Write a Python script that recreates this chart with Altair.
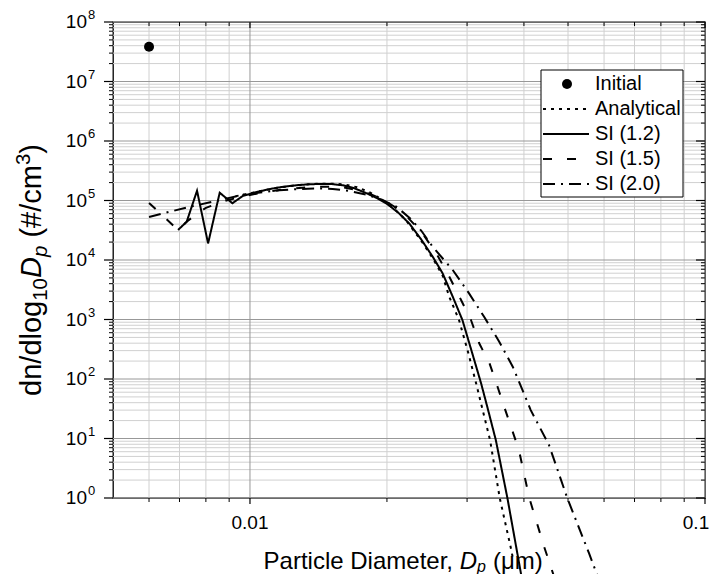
import altair as alt
import pandas as pd

FONT = "Liberation Sans"
W, H = 592, 476

# ---------------- data ----------------
initial_x = [0.006]
initial_y = [3.85e7]

an_x = [0.0093, 0.0100, 0.0108, 0.0116, 0.0125, 0.0134, 0.0143, 0.0152, 0.0162, 0.0172,
        0.0183, 0.0195, 0.0207, 0.0220, 0.0238, 0.0252, 0.0265, 0.02742, 0.0288, 0.0302,
        0.0314, 0.0324, 0.0337, 0.0354, 0.0374, 0.0378]
an_y = [1.18e5, 1.32e5, 1.5e5, 1.65e5, 1.78e5, 1.87e5, 1.92e5, 1.92e5, 1.85e5, 1.67e5,
        1.38e5, 1.04e5, 7.4e4, 4.7e4, 2.1e4, 1.08e4, 5.5e3, 2.4e3, 980, 270,
        85, 32, 9.4, 0.99, 0.15, 0.1]

si12_x = [0.00695, 0.00726, 0.00765, 0.00809, 0.00858, 0.00915, 0.00964, 0.0102, 0.0108, 0.0114,
          0.0121, 0.0128, 0.0135, 0.0143, 0.0151, 0.0160, 0.0169, 0.0179, 0.0189, 0.0200,
          0.0212, 0.0224, 0.0238, 0.0252, 0.0265, 0.0279, 0.0293, 0.0308, 0.0322, 0.0333,
          0.0347, 0.0368, 0.0397]
si12_y = [3.2e4, 4.4e4, 1.46e5, 1.9e4, 1.35e5, 9.0e4, 1.19e5, 1.35e5, 1.5e5, 1.63e5,
          1.74e5, 1.82e5, 1.87e5, 1.9e5, 1.89e5, 1.8e5, 1.62e5, 1.36e5, 1.12e5, 8.8e4,
          6.2e4, 4.1e4, 2.2e4, 1.14e4, 6.0e3, 2.42e3, 980, 270, 85, 32,
          9.4, 0.99, 0.039]

si15_x = [0.006, 0.00695, 0.00726, 0.0076, 0.0080, 0.0085, 0.0090, 0.0095, 0.0100, 0.0108,
          0.0116, 0.0125, 0.0134, 0.0143, 0.0152, 0.0162, 0.0172, 0.0183, 0.0195, 0.0207,
          0.0220, 0.0238, 0.0258, 0.02742, 0.0291, 0.0306, 0.0319, 0.0336, 0.0350, 0.0362,
          0.0390, 0.0411, 0.0443, 0.0466]
si15_y = [9.1e4, 3.2e4, 4.4e4, 5.8e4, 7.5e4, 9.0e4, 1.03e5, 1.13e5, 1.24e5, 1.38e5,
          1.5e5, 1.6e5, 1.67e5, 1.71e5, 1.71e5, 1.64e5, 1.5e5, 1.3e5, 1.06e5, 8.0e4,
          5.6e4, 3.0e4, 1.21e4, 5.24e3, 2.13e3, 980, 398, 184, 74, 34,
          6.4, 1.0, 0.152, 0.0475]

si20_x = [0.006, 0.0073, 0.0085, 0.0097, 0.0108, 0.0116, 0.0125, 0.0134, 0.0143, 0.0152,
          0.0165, 0.0180, 0.0195, 0.0210, 0.0225, 0.0238, 0.0252, 0.0279, 0.0303, 0.0327,
          0.0353, 0.0378, 0.0400, 0.0414, 0.0454, 0.0498, 0.0556, 0.0585]
si20_y = [5.3e4, 7.7e4, 1.0e5, 1.26e5, 1.4e5, 1.48e5, 1.54e5, 1.58e5, 1.59e5, 1.56e5,
          1.45e5, 1.26e5, 1.03e5, 7.8e4, 5.0e4, 3.1e4, 1.67e4, 6.79e3, 2.75e3, 1.11e3,
          424, 161, 57, 30, 7.8, 1.0, 0.118, 0.042]

series_names = ["Analytical", "SI (1.2)", "SI (1.5)", "SI (2.0)"]
dash_styles = [[3, 5], [1, 0], [9, 15], [12, 6, 2, 6]]

# axis ticks / labels
y_major = [1e0, 1e1, 1e2, 1e3, 1e4, 1e5, 1e6, 1e7, 1e8]
y_exp = ["0", "1", "2", "3", "4", "5", "6", "7", "8"]
y_minor = [m * 10 ** k for k in range(0, 8) for m in range(2, 10)]
x_major = [0.01, 0.1]
x_major_labels = ["0.01", "0.1"]
x_minor = [0.006, 0.007, 0.008, 0.009, 0.02, 0.03, 0.04, 0.05, 0.06, 0.07, 0.08, 0.09]

# ---------------- build tables ----------------
rows = []
for name, xs_, ys_ in zip(series_names, [an_x, si12_x, si15_x, si20_x],
                          [an_y, si12_y, si15_y, si20_y]):
    for xv, yv in zip(xs_, ys_):
        rows.append({"series": name, "x": xv, "y": yv})
df_lines = pd.DataFrame(rows)
df_init = pd.DataFrame({"x": initial_x, "y": initial_y})
df_ymaj = pd.DataFrame({"v": y_major, "base": ["10"] * len(y_major), "exp": y_exp})
df_ymin = pd.DataFrame({"v": y_minor})
df_xmaj = pd.DataFrame({"v": x_major, "lab": x_major_labels})
df_xlab_a = df_xmaj.iloc[:1]
df_xlab_b = df_xmaj.iloc[1:]
df_xmin = pd.DataFrame({"v": x_minor})
one = pd.DataFrame({"k": [0]})

xsc = alt.Scale(type="log", domain=[0.005, 0.1], nice=False)
ysc = alt.Scale(type="log", domain=[1, 1e8], nice=False)


def X(f):
    return alt.X(f"{f}:Q", scale=xsc, axis=None)


def Y(f):
    return alt.Y(f"{f}:Q", scale=ysc, axis=None)


GRID_MIN = "#d0d0d0"
GRID_MAJ = "#989898"

layers = []
# grids
layers.append(alt.Chart(df_ymin).mark_rule(color=GRID_MIN, strokeWidth=1).encode(
    y=Y("v"), x=alt.value(0), x2=alt.value(W)))
layers.append(alt.Chart(df_xmin).mark_rule(color=GRID_MIN, strokeWidth=1).encode(
    x=X("v"), y=alt.value(0), y2=alt.value(H)))
layers.append(alt.Chart(df_ymaj).mark_rule(color=GRID_MAJ, strokeWidth=1).encode(
    y=Y("v"), x=alt.value(0), x2=alt.value(W)))
layers.append(alt.Chart(df_xmaj).mark_rule(color=GRID_MAJ, strokeWidth=1).encode(
    x=X("v"), y=alt.value(0), y2=alt.value(H)))

# ticks: left (out), right (in), bottom (out), top (in)
layers.append(alt.Chart(df_ymaj).mark_rule(color="black", strokeWidth=1.2).encode(
    y=Y("v"), x=alt.value(-9), x2=alt.value(0)))
layers.append(alt.Chart(df_ymin).mark_rule(color="black", strokeWidth=1).encode(
    y=Y("v"), x=alt.value(-4), x2=alt.value(0)))
layers.append(alt.Chart(df_ymaj).mark_rule(color="black", strokeWidth=1.2).encode(
    y=Y("v"), x=alt.value(W - 9), x2=alt.value(W)))
layers.append(alt.Chart(df_ymin).mark_rule(color="black", strokeWidth=1).encode(
    y=Y("v"), x=alt.value(W - 4), x2=alt.value(W)))
layers.append(alt.Chart(df_xmaj).mark_rule(color="black", strokeWidth=1.2).encode(
    x=X("v"), y=alt.value(H), y2=alt.value(H + 6)))
layers.append(alt.Chart(df_xmin).mark_rule(color="black", strokeWidth=1).encode(
    x=X("v"), y=alt.value(H), y2=alt.value(H + 4)))
layers.append(alt.Chart(df_xmaj).mark_rule(color="black", strokeWidth=1.2).encode(
    x=X("v"), y=alt.value(0), y2=alt.value(6)))
layers.append(alt.Chart(df_xmin).mark_rule(color="black", strokeWidth=1).encode(
    x=X("v"), y=alt.value(0), y2=alt.value(4)))

# tick labels
layers.append(alt.Chart(df_ymaj).mark_text(align="right", baseline="middle", fontSize=19,
                                           font=FONT, color="black").encode(
    y=Y("v"), x=alt.value(-26), text="base:N"))
layers.append(alt.Chart(df_ymaj).mark_text(align="left", baseline="middle", fontSize=13,
                                           font=FONT, color="black", dy=-7).encode(
    y=Y("v"), x=alt.value(-25), text="exp:N"))
layers.append(alt.Chart(df_xlab_a).mark_text(align="center", baseline="middle", fontSize=19,
                                             font=FONT, color="black").encode(
    x=X("v"), y=alt.value(H + 25), text="lab:N"))
layers.append(alt.Chart(df_xlab_b).mark_text(align="center", baseline="middle", fontSize=19,
                                             font=FONT, color="black", dx=-9).encode(
    x=X("v"), y=alt.value(H + 25), text="lab:N"))

# x title pieces
XT_Y = 547
layers.append(alt.Chart(one).mark_text(align="right", baseline="alphabetic", fontSize=24,
                                       font=FONT, color="black").encode(
    x=alt.value(340), y=alt.value(XT_Y), text=alt.value("Particle Diameter,")))
layers.append(alt.Chart(one).mark_text(align="left", baseline="alphabetic", fontSize=24,
                                       font=FONT, fontStyle="italic", color="black").encode(
    x=alt.value(346.7), y=alt.value(XT_Y), text=alt.value("D")))
layers.append(alt.Chart(one).mark_text(align="left", baseline="alphabetic", fontSize=16,
                                       font=FONT, fontStyle="italic", color="black").encode(
    x=alt.value(364), y=alt.value(XT_Y + 2.5), text=alt.value("p")))
layers.append(alt.Chart(one).mark_text(align="left", baseline="alphabetic", fontSize=24,
                                       font=FONT, color="black").encode(
    x=alt.value(380), y=alt.value(XT_Y), text=alt.value("(\u03bcm)")))

# y title pieces (rotated, reading upward)
F, S = 29, 20.5
YT_X = -72
d0 = 0
d1 = d0 + 3.28 * F
d2 = d1 + 1.112 * S
d3 = d2 + 0.722 * F
d4 = d3 + 0.556 * S + 0.278 * F
d5 = d4 + 2.5 * F
d6 = d5 + 0.556 * S
total = d6 + 0.333 * F
YT_Y = 248 + total / 2
ytitle = [("dn/dlog", F, "normal", d0, 0), ("10", S, "normal", d1, 6),
          ("D", F, "italic", d2, 0), ("p", S, "italic", d3, 6),
          ("(#/cm", F, "normal", d4, 0), ("3", S, "normal", d5, -11),
          (")", F, "normal", d6, 0)]
for txt, fs, st, dx, dy in ytitle:
    layers.append(alt.Chart(one).mark_text(align="left", baseline="alphabetic", angle=270,
                                           fontSize=fs, font=FONT, fontStyle=st,
                                           color="black", dx=dx, dy=dy).encode(
        x=alt.value(YT_X), y=alt.value(YT_Y), text=alt.value(txt)))

# data
layers.append(alt.Chart(df_lines).mark_line(strokeWidth=2, color="black", clip=False).encode(
    x=X("x"), y=Y("y"),
    strokeDash=alt.StrokeDash("series:N", scale=alt.Scale(domain=series_names, range=dash_styles),
                              legend=None),
    detail="series:N"))
layers.append(alt.Chart(df_init).mark_point(filled=True, color="black", size=100, opacity=1).encode(
    x=X("x"), y=Y("y")))

# legend
LX0, LX1, LY0, LY1 = 428, 570, 48, 175
layers.append(alt.Chart(one).mark_rect(fill="white", stroke="black", strokeWidth=1).encode(
    x=alt.value(LX0), x2=alt.value(LX1), y=alt.value(LY0), y2=alt.value(LY1)))
leg_labels = ["Initial"] + series_names
for i, lab in enumerate(leg_labels):
    yy = 62 + 25 * i
    if i == 0:
        layers.append(alt.Chart(one).mark_point(filled=True, color="black", size=100, opacity=1).encode(
            x=alt.value(454), y=alt.value(yy)))
    else:
        layers.append(alt.Chart(one).mark_rule(color="black", strokeWidth=2,
                                               strokeDash=dash_styles[i - 1]).encode(
            x=alt.value(430), x2=alt.value(476), y=alt.value(yy)))
    layers.append(alt.Chart(one).mark_text(align="left", baseline="middle", fontSize=20,
                                           font=FONT, color="black").encode(
        x=alt.value(482), y=alt.value(yy), text=alt.value(lab)))

chart = alt.layer(*layers).properties(
    width=W, height=H,
    padding={"left": 105, "top": 14, "right": 5, "bottom": 76},
    autosize=alt.AutoSizeParams(type="none"),
).configure_view(stroke="black", strokeWidth=1.3)

chart.save("out.html", embed_options={"renderer": "svg", "actions": False})
